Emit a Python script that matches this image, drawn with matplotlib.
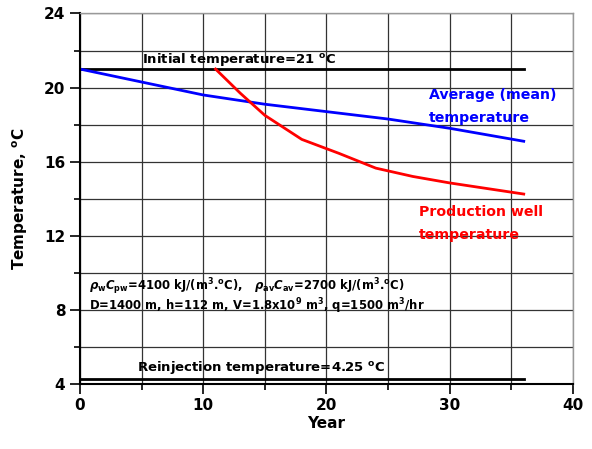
import matplotlib
matplotlib.use('Agg')
from matplotlib import pyplot as plt
from matplotlib.ticker import MultipleLocator

# average (mean) reservoir temperature
avg_year = [0, 5, 10, 15, 20, 25, 30, 36]
avg_temp = [21.0, 20.3, 19.6, 19.1, 18.7, 18.3, 17.8, 17.1]

# production well temperature (breakthrough near year 11)
prod_year = [11, 13, 15, 18, 21, 24, 27, 30, 33, 36]
prod_temp = [21.0, 19.7, 18.5, 17.2, 16.45, 15.65, 15.2, 14.85, 14.55, 14.25]

initial_temp = 21
reinjection_temp = 4.25
line_end = 36

plt.rcParams['font.family'] = 'DejaVu Sans'
plt.rcParams['font.weight'] = 'bold'

fig = plt.figure(figsize=(5.92, 4.49), dpi=100)
ax = fig.add_axes([0.135, 0.145, 0.833, 0.825])

ax.set_xlim(0, 40)
ax.set_ylim(4, 24)
ax.xaxis.set_major_locator(MultipleLocator(10))
ax.xaxis.set_minor_locator(MultipleLocator(5))
ax.yaxis.set_major_locator(MultipleLocator(4))
ax.yaxis.set_minor_locator(MultipleLocator(2))
ax.grid(which='both', color='#333333', linewidth=0.9)
ax.set_axisbelow(True)

ax.tick_params(which='major', direction='out', length=7, width=1.2, labelsize=11)
ax.tick_params(which='minor', direction='out', length=4, width=1.2)
for lbl in ax.get_xticklabels() + ax.get_yticklabels():
    lbl.set_fontweight('bold')

for s in ['left', 'bottom']:
    ax.spines[s].set_linewidth(1.5)
for s in ['top', 'right']:
    ax.spines[s].set_color('#999999')
    ax.spines[s].set_linewidth(1.0)

ax.plot([0, line_end], [initial_temp, initial_temp], color='black', lw=2)
ax.plot([0, line_end], [reinjection_temp, reinjection_temp], color='black', lw=2)
ax.plot(avg_year, avg_temp, color='blue', lw=2)
ax.plot(prod_year, prod_temp, color='red', lw=2)

ax.text(5, 21.3, 'Initial temperature=%g $^{\\mathregular{o}}$C' % initial_temp,
        fontsize=9.5, fontweight='bold')
ax.text(4.6, 4.7, 'Reinjection temperature=%g $^{\\mathregular{o}}$C' % reinjection_temp,
        fontsize=9.5, fontweight='bold')
ax.text(28.3, 19.95, 'Average (mean)\ntemperature', color='blue', va='top',
        fontsize=10.2, fontweight='bold', linespacing=1.8)
ax.text(27.5, 13.65, 'Production well\ntemperature', color='red', va='top',
        fontsize=10.2, fontweight='bold', linespacing=1.8)

ax.text(0.7, 9.05, r'$\rho_{\mathregular{w}}$$C_{\mathregular{pw}}$=4100 kJ/(m$^{\mathregular{3}}$.$^{\mathregular{o}}$C),   '
        r'$\rho_{\mathregular{av}}$$C_{\mathregular{av}}$=2700 kJ/(m$^{\mathregular{3}}$.$^{\mathregular{o}}$C)',
        fontsize=8.4, fontweight='bold')
ax.text(0.7, 7.95, r'D=1400 m, h=112 m, V=1.8x10$^{\mathregular{9}}$ m$^{\mathregular{3}}$, q=1500 m$^{\mathregular{3}}$/hr',
        fontsize=8.4, fontweight='bold')

ax.set_xlabel('Year', fontsize=11, fontweight='bold', labelpad=2)
ax.set_ylabel('Temperature, $^{\\mathregular{o}}$C', fontsize=11, fontweight='bold', labelpad=10)

fig.savefig('out.png', dpi=100)
